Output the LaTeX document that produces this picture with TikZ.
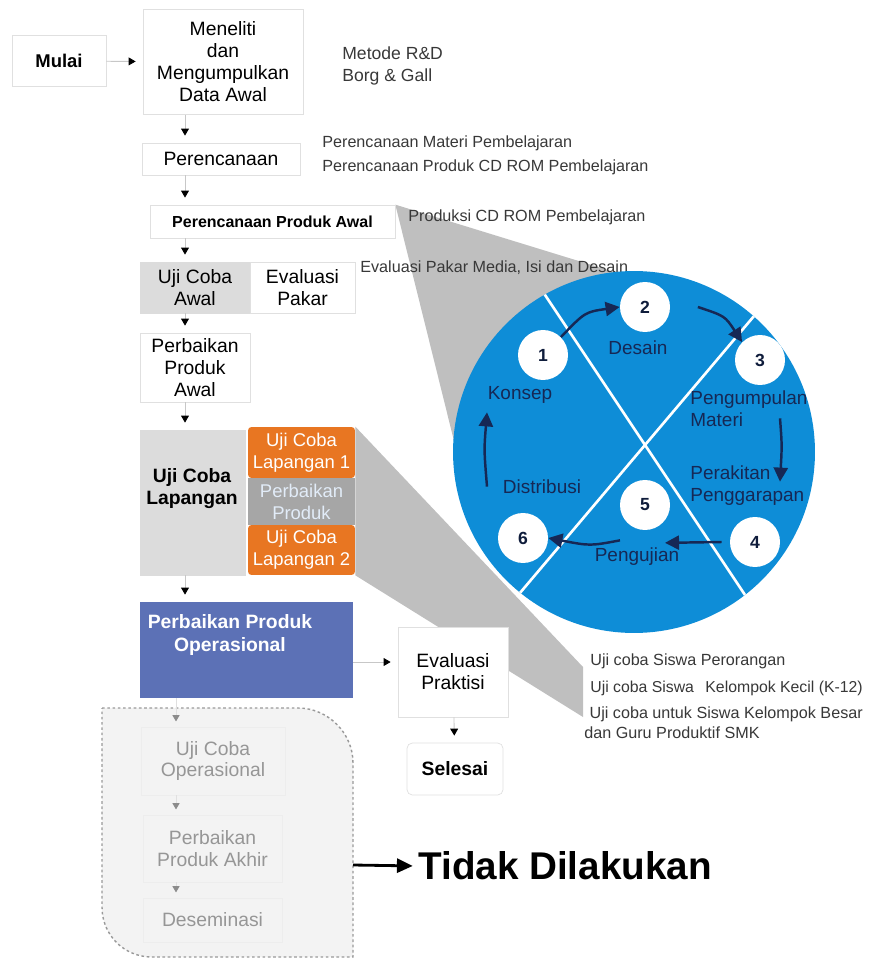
\documentclass[tikz,border=0pt]{standalone}
\usepackage{fontspec}
\setmainfont{Liberation Sans}
\usepackage{tikz}
\usetikzlibrary{arrows.meta,positioning,calc,backgrounds}
\definecolor{ujigray}{RGB}{220,220,220}
\definecolor{fixgray}{RGB}{166,166,166}
\definecolor{fixtxt}{RGB}{226,236,248}
\definecolor{lapor}{RGB}{232,118,34}
\definecolor{opblue}{RGB}{92,113,182}
\definecolor{cycblue}{RGB}{14,141,215}
\definecolor{cycnavy}{RGB}{22,40,85}
\definecolor{wedge}{RGB}{191,191,191}
\definecolor{fadetxt}{RGB}{150,150,150}
\definecolor{fadebg}{RGB}{243,243,243}
\tikzset{
  stepbox/.style={draw=black!12, fill=white, align=center, inner sep=1pt, font=\fontsize{11}{12.5}\selectfont},
  greybox/.style={stepbox, fill=ujigray, draw=ujigray},
  orbox/.style={fill=lapor, text=white, align=center, rounded corners=2pt, minimum width=2.14cm, inner sep=0pt, font=\fontsize{10.5}{12.5}\selectfont},
  fadebox/.style={draw=black!7, fill=fadebg, text=fadetxt, align=center, inner sep=1pt, font=\fontsize{11}{12.5}\selectfont},
  sidetxt/.style={anchor=west, align=left, text=black!78, inner sep=0pt, font=\fontsize{9.2}{13.5}\selectfont},
  numc/.style={circle, fill=white, minimum size=1cm, inner sep=0pt, text=cycnavy!70!black, font=\bfseries\fontsize{10}{12}\selectfont},
  cyclbl/.style={text=cycnavy, align=left, inner sep=0pt, font=\fontsize{10.8}{12.5}\selectfont},
  flow/.style={draw=black!22, line width=0.5pt, -{Triangle[length=4pt,width=4.5pt,color=black]}, shorten >=4pt},
  fadeflow/.style={draw=black!12, line width=0.5pt, -{Triangle[length=3.5pt,width=4pt,color=black!45]}, shorten >=3pt},
  cyc/.style={draw=cycnavy, line width=1.4pt, -{Triangle[length=8pt,width=8pt]}},
}
\begin{document}
\begin{tikzpicture}[x=0.02cm, y=-0.02cm]
  \useasboundingbox (0,0) rectangle (872,962);

  % main flow
  \node[stepbox, font=\bfseries\fontsize{10.5}{12.5}\selectfont, minimum width=1.88cm, minimum height=1.02cm] (mulai) at (59,61) {Mulai};
  \node[stepbox, minimum width=3.2cm, minimum height=2.1cm] (meneliti) at (223,62) {Meneliti\\dan\\Mengumpulkan\\Data Awal};
  \node[sidetxt, font=\fontsize{10}{12.5}\selectfont] (metode) at (342,66) {Metode R\&D\\Borg \& Gall};

  \node[stepbox, minimum width=3.16cm, minimum height=0.64cm] (rencana) at (221,159) {Perencanaan};
  \node[sidetxt] (rencanaket) at (322,155) {Perencanaan Materi Pembelajaran\\Perencanaan Produk CD ROM Pembelajaran};

  \node[stepbox, font=\bfseries\fontsize{9.1}{11}\selectfont, minimum width=4.9cm, minimum height=0.66cm] (produkawal) at (272.5,221.5) {Perencanaan Produk Awal};
  \node[sidetxt] (produksi) at (408,217) {Produksi CD ROM Pembelajaran};

  \node[greybox, minimum width=2.2cm, minimum height=1.02cm] (ujiawal) at (195,287.5) {Uji Coba\\Awal};
  \node[stepbox, minimum width=2.1cm, minimum height=1.02cm] (pakar) at (302.5,287.5) {Evaluasi\\Pakar};
  \node[sidetxt] (pakarket) at (360,268) {Evaluasi Pakar Media, Isi dan Desain};

  \node[stepbox, minimum width=2.2cm, minimum height=1.38cm] (perbawal) at (195,367.5) {Perbaikan\\Produk\\Awal};

  \node[greybox, minimum width=2.1cm, minimum height=2.9cm] (lapangan) at (192.5,502.5) {};
  \node[align=center, font=\bfseries\fontsize{11}{12.5}\selectfont] (lapangantxt) at (192,489) {Uji Coba\\Lapangan};
  \node[orbox, minimum height=1.02cm] (lap1) at (301.5,452.5) {Uji Coba\\Lapangan 1};
  \node[orbox, fill=fixgray, text=fixtxt, rounded corners=0pt, minimum height=0.94cm] (fix) at (301.5,501.5) {Perbaikan\\Produk};
  \node[orbox, minimum height=1.0cm] (lap2) at (301.5,550) {Uji Coba\\Lapangan 2};

  \node[fill=opblue, minimum width=4.26cm, minimum height=1.92cm] (operasional) at (246.5,650) {};
  \node[align=center, text=white, font=\bfseries\fontsize{11}{13}\selectfont] (operasionaltxt) at (230,635) {Perbaikan Produk\\Operasional};

  \node[stepbox, minimum width=2.2cm, minimum height=1.8cm] (praktisi) at (453,672) {Evaluasi\\Praktisi};
  \node[stepbox, rounded corners=3pt, font=\bfseries\fontsize{11}{12.5}\selectfont, minimum width=1.92cm, minimum height=1.04cm] (selesai) at (455,769) {Selesai};

  \node[sidetxt] (ujiket1) at (590,661) {Uji coba Siswa Perorangan};
  \node[sidetxt, font=\fontsize{9}{13.5}\selectfont] (ujiket2) at (590,688) {Uji coba Siswa\hspace{4pt} Kelompok Kecil (K-12)};
  \node[sidetxt, font=\fontsize{9.2}{11.3}\selectfont] (ujiket3) at (584,723) {\hspace{3pt}Uji coba untuk Siswa Kelompok Besar\\dan Guru Produktif SMK};

  \coordinate (spine) at (185,0);
  \coordinate (evalrow) at (0,662);
  \draw[flow] (mulai) -- (meneliti);
  \draw[flow] (spine |- meneliti.south) -- (spine |- rencana.north);
  \draw[flow] (spine |- rencana.south) -- (spine |- produkawal.north);
  \draw[flow] (spine |- produkawal.south) -- (spine |- ujiawal.north);
  \draw[flow] (spine |- ujiawal.south) -- (spine |- perbawal.north);
  \draw[flow] (spine |- perbawal.south) -- (spine |- lapangan.north);
  \draw[flow] (spine |- lapangan.south) -- (spine |- operasional.north);
  \draw[flow] (evalrow -| operasional.east) -- (evalrow -| praktisi.west);
  \draw[flow] (praktisi) -- (selesai);

  % steps that were not carried out
  \draw[draw=black!40, line width=0.8pt, dash pattern=on 1.5pt off 1.5pt, fill=fadebg]
    (102,708) -- (298,708) .. controls (328,708) and (353,733) .. (353,763)
    -- (353,957) -- (152,957) .. controls (124,957) and (102,935) .. (102,907) -- cycle;
  \node[fadebox, minimum width=2.88cm, minimum height=1.36cm] (ujiop) at (213,761) {Uji Coba\\Operasional};
  \node[fadebox, minimum width=2.78cm, minimum height=1.34cm] (perbakhir) at (212.5,848.5) {Perbaikan\\Produk Akhir};
  \node[fadebox, minimum width=2.78cm, minimum height=0.88cm] (desem) at (212.5,920) {Deseminasi};
  \coordinate (fadespine) at (176,0);
  \draw[fadeflow] (fadespine |- operasional.south) -- (fadespine |- ujiop.north);
  \draw[fadeflow] (fadespine |- ujiop.south) -- (fadespine |- perbakhir.north);
  \draw[fadeflow] (fadespine |- perbakhir.south) -- (fadespine |- desem.north);

  \coordinate (tidakfrom) at (353,865);
  \node[anchor=west, inner sep=0pt, font=\bfseries\fontsize{22}{26}\selectfont] (tidak) at (418,866) {Tidak Dilakukan};
  \draw[line width=1.6pt, -{Triangle[length=9pt,width=8pt]}, shorten >=3pt] (tidakfrom) -- (tidak.west);

  % development cycle
  \node[circle, fill=cycblue, minimum size=7.24cm, inner sep=0pt] (siklus) at (634,452) {};
  \begin{scope}
    \clip (634,452) circle[radius=3.62cm];
    \draw[white, line width=1.5pt] (523,262) -- (767,628);
    \draw[white, line width=1.5pt] (787,277) -- (503,613);
    \node[cyclbl] (konsep) at (520,395) {Konsep};
    \node[cyclbl] (desain) at (638,348) {Desain};
    \node[cyclbl, anchor=west] (materi) at (690,409) {Pengumpulan\\Materi};
    \node[cyclbl, anchor=west] (rakit) at (690,486) {Perakitan\\Penggarapan};
    \node[cyclbl] (uji) at (637,557) {Pengujian};
    \node[cyclbl] (distribusi) at (542,487) {Distribusi};
  \end{scope}
  \node[numc] (n1) at (543,355) {1};
  \node[numc] (n2) at (645,307) {2};
  \node[numc] (n3) at (760,360) {3};
  \node[numc] (n4) at (755,542) {4};
  \node[numc] (n5) at (645,505) {5};
  \node[numc] (n6) at (523,538) {6};
  \draw[cyc] (n1.north east) .. controls (585,312) .. (n2.west);
  \draw[cyc] ([xshift=0.55cm]n2.east) .. controls (725,316) .. (n3.north west);
  \draw[cyc] ([shift={(0.4cm,-0.66cm)}]n3.south) .. controls (782,445) .. ([shift={(0.5cm,0.7cm)}]n4.north);
  \draw[cyc] ([xshift=-0.16cm]n4.west) -- ([shift={(0.4cm,-0.25cm)}]n5.south);
  \draw[cyc] ([shift={(-0.5cm,-0.2cm)}]n5.south) .. controls (590,546) .. (n6.east);
  \draw[cyc] ([shift={(-0.72cm,0.52cm)}]n6.north) .. controls (484,450) .. ([shift={(-1.12cm,-0.64cm)}]n1.south);

  % grey funnels behind everything
  \begin{scope}[on background layer]
    \fill[wedge] (produkawal.north east) -- (634,278) -- (455,445) -- cycle;
    \fill[wedge] (lap1.north east) -- (583,667) -- (583,717) -- (lap2.south east) -- cycle;
  \end{scope}
\end{tikzpicture}
\end{document}
